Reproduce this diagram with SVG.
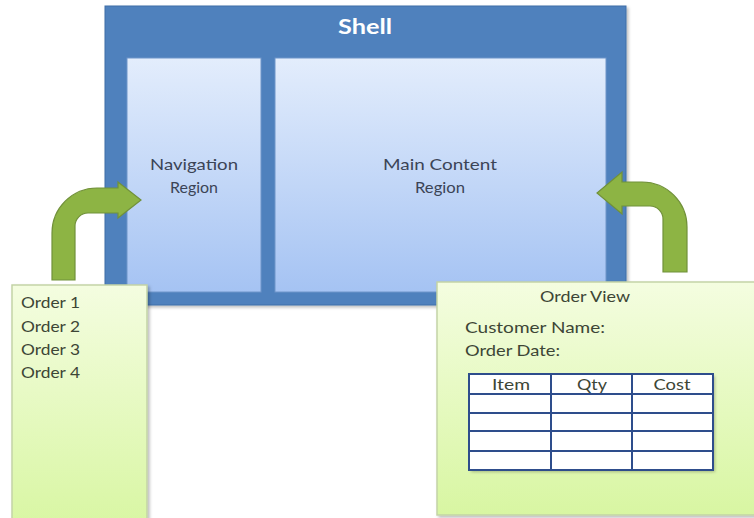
<svg xmlns="http://www.w3.org/2000/svg" width="754" height="518" viewBox="0 0 754 518">
  <defs>
    <linearGradient id="regionGrad" x1="0" y1="0" x2="0" y2="1">
      <stop offset="0" stop-color="#e3edfc"/>
      <stop offset="1" stop-color="#a5c3f3"/>
    </linearGradient>
    <linearGradient id="panelGrad" x1="0" y1="0" x2="0" y2="1">
      <stop offset="0" stop-color="#f4fde0"/>
      <stop offset="1" stop-color="#d8f6a2"/>
    </linearGradient>
    <filter id="shadow" x="-10%" y="-10%" width="125%" height="125%">
      <feDropShadow dx="2" dy="2" stdDeviation="1.5" flood-color="#000" flood-opacity="0.25"/>
    </filter>
  </defs>
  <style>
    .shell { fill: #4f81bd; stroke: #3f6ea8; stroke-width: 1; }
    .region { fill: url(#regionGrad); stroke: #6f95c9; stroke-width: 1; }
    .panel { fill: url(#panelGrad); stroke: #c3d3a6; stroke-width: 1.5; }
    .arrow { fill: #8db444; stroke: #71913a; stroke-width: 1.2; }
    .title { font-family: "Lato", "Liberation Sans", sans-serif; font-weight: bold; font-size: 20px; fill: #ffffff; }
    .label { font-family: "Lato", "Liberation Sans", sans-serif; font-size: 16px; fill: #3b4456; }
    .ptext { font-family: "Lato", "Liberation Sans", sans-serif; font-size: 16px; fill: #3d4636; }
    .cell { fill: #ffffff; }
    .grid { stroke: #2e4d8c; stroke-width: 2; fill: none; }
  </style>
  <rect width="754" height="518" fill="#ffffff"/>

  <g id="shell">
    <rect class="shell" x="105" y="6" width="521" height="299" filter="url(#shadow)"/>
    <text class="title" x="365" y="34" text-anchor="middle" textLength="54" lengthAdjust="spacingAndGlyphs">Shell</text>
  </g>

  <g id="navigation-region">
    <rect class="region" x="127" y="58" width="134" height="234"/>
    <text class="label" x="194" y="170" text-anchor="middle" textLength="88" lengthAdjust="spacingAndGlyphs">Navigation</text>
    <text class="label" x="194" y="193" text-anchor="middle" textLength="48" lengthAdjust="spacingAndGlyphs">Region</text>
  </g>

  <g id="main-content-region">
    <rect class="region" x="275" y="58" width="331" height="234"/>
    <text class="label" x="440" y="170" text-anchor="middle" textLength="114" lengthAdjust="spacingAndGlyphs">Main Content</text>
    <text class="label" x="440" y="193" text-anchor="middle" textLength="50" lengthAdjust="spacingAndGlyphs">Region</text>
  </g>

  <g id="connectors">
    <path class="arrow" d="M52,280 L52,233 A45,45 0 0 1 97,188 L118,188 L118,182 L141,200 L118,218 L118,213 L88,213 A13,13 0 0 0 75,226 L75,280 Z"/>
    <path class="arrow" d="M687,272 L687,227 A45,45 0 0 0 642,182 L622,182 L622,172 L597,193 L622,214 L622,206 L650,206 A13,13 0 0 1 663,219 L663,272 Z"/>
  </g>

  <g id="order-list">
    <rect class="panel" x="12" y="285" width="135" height="245" filter="url(#shadow)"/>
    <text class="ptext" x="21" y="308" textLength="59" lengthAdjust="spacingAndGlyphs">Order 1</text>
    <text class="ptext" x="21" y="332" textLength="59" lengthAdjust="spacingAndGlyphs">Order 2</text>
    <text class="ptext" x="21" y="355" textLength="59" lengthAdjust="spacingAndGlyphs">Order 3</text>
    <text class="ptext" x="21" y="378" textLength="59" lengthAdjust="spacingAndGlyphs">Order 4</text>
  </g>

  <g id="order-view">
    <rect class="panel" x="437" y="282" width="330" height="233" filter="url(#shadow)"/>
    <text class="ptext" x="585" y="302" text-anchor="middle" textLength="90" lengthAdjust="spacingAndGlyphs">Order View</text>
    <text class="ptext" x="465" y="333" textLength="140" lengthAdjust="spacingAndGlyphs">Customer Name:</text>
    <text class="ptext" x="465" y="356" textLength="95" lengthAdjust="spacingAndGlyphs">Order Date:</text>
    <rect class="cell" x="469" y="374" width="244" height="96" filter="url(#shadow)"/>
    <rect class="grid" x="469" y="374" width="244" height="96"/>
    <path class="grid" d="M551,374 V470 M632,374 V470 M469,394 H713 M469,413 H713 M469,431 H713 M469,451 H713"/>
    <text class="ptext" x="511" y="390" text-anchor="middle" textLength="38" lengthAdjust="spacingAndGlyphs">Item</text>
    <text class="ptext" x="592" y="390" text-anchor="middle" textLength="30" lengthAdjust="spacingAndGlyphs">Qty</text>
    <text class="ptext" x="672" y="390" text-anchor="middle" textLength="37" lengthAdjust="spacingAndGlyphs">Cost</text>
  </g>
</svg>
